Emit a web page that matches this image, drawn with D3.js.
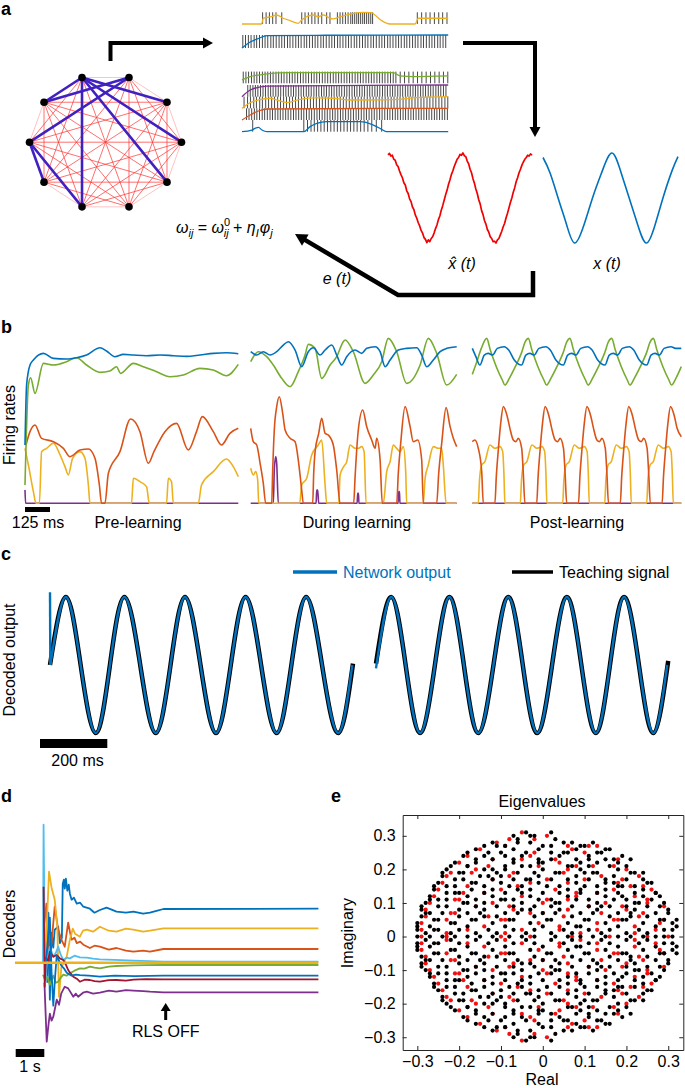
<!DOCTYPE html>
<html>
<head>
<meta charset="utf-8">
<script src="https://cdn.jsdelivr.net/npm/d3@7/dist/d3.min.js"></script>
<style>
body { margin: 0; background: #fff; }
svg { font-family: "Liberation Sans", Arial, Helvetica, sans-serif; }
</style>
</head>
<body>
<svg id="fig" width="685" height="1088"></svg>
<script>
// ---- colours (matlab default cycle) ----
const C = {blue: '#0072bd', orange: '#d95319', yellow: '#edb120', purple: '#7e2f8e',
  green: '#77ac30', cyan: '#4dbeee', red: '#a2142f'}

// ---- panel a : network ----
const nNodes = 10
const strongEdges = [[0,9],[0,2],[0,3],[0,4],[0,6],[1,9],[1,8],[8,7],[8,6]]

// ---- panel a : spike raster (time ms, rate 0..1) ----
const rateYellowTop = [[0,0],[95,0],[103,0.49],[144,0.63],[168,0.77],[200,0.49],[233,0.29],[273,0.06],[290,0.34],[314,0.63],[346,0.77],[370,0.63],[395,0.77],[419,0.57],[443,0.43],[476,0.63],[508,0.77],[540,0.91],[589,1],[629,0.97],[645,0.77],[678,0.29],[718,0],[840,0],[856,0.49],[929,0.49],[1001,0.49]]
const spkYellowTop = [100,117,133,149,165,193,290,306,322,339,354,370,387,411,427,463,476,489,502,515,528,537,547,557,566,576,586,595,605,615,625,634,851,872,893,913,934,955,974,995]
const rateBlueTop = [[0,0],[40,0.46],[80,0.73],[121,0.95],[400,0.98],[1001,1]]
const spkBlueTop = [4,17,31,44,59,71,85,99,112,125,140,152,166,180,193,206,221,233,247,261,274,287,302,314,328,342,355,368,383,395,409,423,436,449,464,476,490,504,517,530,545,557,571,585,598,611,626,638,652,666,679,692,707,719,733,747,760,773,788,800,814,828,841,854,869,881,895,909,922,935,950,962,976,989]
const rateGreen = [[0,0.29],[40,0.57],[121,0.8],[218,0.91],[735,0.91],[767,0.63],[832,0.57],[1001,0.63]]
const spkGreen = [6,19,32,46,59,72,85,99,112,125,138,151,165,178,191,204,218,231,244,257,270,284,297,310,323,337,350,363,376,390,403,416,429,443,456,469,482,496,509,522,535,549,562,575,588,602,615,628,641,655,668,681,694,708,721,734,747,768,789,810,831,852,873,894,915,936,957,978,999]
const ratePurple = [[0,0],[40,0.57],[121,0.91],[1001,1]]
const spkPurple = [28,40,53,65,77,90,102,114,127,139,151,164,176,188,201,213,225,238,250,262,275,287,299,312,324,336,349,361,373,386,398,410,423,435,447,460,472,484,497,509,521,534,546,558,571,583,595,608,620,632,645,657,669,682,694,706,719,731,743,756,768,780,793,805,817,830,842,854,867,879,891,904,916,928,941,953,965,978,990]
const rateYellowLow = [[0,0],[40,0.49],[80,0.71],[137,0.86],[168,0.71],[218,0.49],[282,0.77],[363,0.89],[443,0.86],[524,0.71],[605,0.71],[767,0.77],[848,0.91],[1001,1]]
const spkYellowLow = [10,27,41,57,70,86,99,115,129,144,158,173,187,202,216,231,245,260,274,289,303,318,332,347,361,376,390,405,419,434,448,463,477,492,506,521,535,550,564,579,593,608,622,637,651,666,680,695,709,724,738,753,767,782,796,811,825,840,854,869,883,898,912,927,941,956,970,985,999]
const rateOrange = [[0,0],[40,0.43],[80,0.77],[121,0.94],[1001,1]]
const spkOrange = [22,34,47,60,72,85,98,110,123,136,148,161,174,186,199,212,224,237,250,262,275,288,300,313,326,338,351,364,376,389,402,414,427,440,452,465,478,490,503,516,528,541,554,566,579,592,604,617,630,642,655,668,680,693,706,718,731,744,756,769,782,794,807,820,832,845,858,870,883,896,908,921,934,946,959,972,984,997]
const rateBlueLow = [[0,0],[48,0.14],[64,0.29],[80,0.37],[97,0.14],[121,0],[299,0],[331,0.43],[363,0.71],[411,0.86],[573,0.86],[638,0.57],[678,0.2],[702,0],[1001,0]]
const spkBlueLow = [52,300,318,335,351,367,383,399,415,431,447,463,479,495,511,527,543,559,576,593,611,630,652,678]

// ---- panel a : decoded vs target (phase units, 100 = one period) ----
const xHat = [[0,0.96],[2,0.99],[4,0.93],[6,0.95],[8,0.86],[10,0.84],[12,0.74],[14,0.7],[16,0.6],[18,0.52],[20,0.45],[22,0.34],[24,0.29],[26,0.16],[28,0.1],[30,-0.02],[32,-0.08],[34,-0.2],[36,-0.26],[38,-0.38],[40,-0.45],[42,-0.55],[44,-0.62],[46,-0.72],[48,-0.78],[50,-0.88],[52,-0.92],[54,-0.99],[56,-0.93],[58,-0.97],[60,-0.9],[62,-0.86],[64,-0.78],[66,-0.68],[68,-0.6],[70,-0.48],[72,-0.4],[74,-0.27],[76,-0.17],[78,-0.05],[80,0.07],[82,0.17],[84,0.3],[86,0.4],[88,0.52],[90,0.6],[92,0.7],[94,0.78],[96,0.86],[98,0.9],[100,0.97],[102,0.95],[104,1.0],[106,0.94],[108,0.92],[110,0.82],[112,0.76],[114,0.64],[116,0.56],[118,0.43],[120,0.33],[122,0.2],[124,0.1],[126,-0.04],[128,-0.13],[130,-0.28],[132,-0.37],[134,-0.5],[136,-0.58],[138,-0.7],[140,-0.76],[142,-0.86],[144,-0.9],[146,-0.97],[148,-0.96],[150,-1.0],[152,-0.93],[154,-0.9],[156,-0.82],[158,-0.74],[160,-0.64],[162,-0.56],[164,-0.44],[166,-0.34],[168,-0.22],[170,-0.1],[172,0.0],[174,0.13],[176,0.23],[178,0.36],[180,0.45],[182,0.56],[184,0.64],[186,0.73],[188,0.8],[190,0.86],[192,0.9],[194,0.95],[196,0.93],[198,0.98],[200,0.95]]
const xTarget = [[0,0.9],[10,0.55],[22,-0.05],[33,-0.6],[44,-1],[57,-0.6],[70,0.05],[83,0.62],[96,1],[108,0.6],[120,0],[132,-0.6],[144,-1],[156,-0.6],[168,0.05],[180,0.62],[188,0.92]]

// ---- panel b : firing rates (time ms, rate Hz) ----
const preBlue = [[0,17.5],[8,35.5],[25,41.5],[42,43],[92,45],[142,43.5],[208,43.3],[258,43.7],[308,44.5],[375,46.7],[408,45.7],[450,44],[492,44.7],[542,44.5],[608,44.3],[675,44.5],[742,44.3],[808,44.1],[875,44.5],[942,45],[1008,45.2],[1067,44.9]]
const preGreen = [[0,5.5],[17,35.5],[28,37.7],[50,33],[92,42],[142,41.5],[208,42.5],[258,43.7],[308,41.5],[375,39.3],[425,39.7],[458,41],[478,39],[542,42],[592,41],[658,39.5],[725,38],[792,38.5],[875,40.5],[942,40],[1008,38.3],[1067,41.7]]
const preOrange = [[5,17.5],[25,21.5],[50,23.5],[83,19.5],[142,18.5],[192,16.5],[225,14],[275,16],[317,16.3],[350,13.5],[372,5.5],[383,0],[400,0],[417,9],[475,15.5],[528,25.3],[575,21.5],[617,12],[645,15.5],[700,21.5],[758,24],[817,16],[858,21.5],[887,26],[942,21.5],[983,17.5],[1025,21],[1067,22.5]]
const preYellow = [[0,16.5],[17,11.5],[42,3.5],[55,0],[72,0],[83,15.5],[108,16.5],[142,18],[172,15],[200,11],[217,8.5],[238,13.5],[275,15.5],[300,13.5],[317,5.5],[325,0],[533,0],[542,7.5],[575,6.5],[608,5],[622,0],[708,0],[717,7.5],[733,6.5],[742,0],[867,0],[883,5.5],[942,9.5],[1008,13.3],[1042,11],[1067,8]]
const prePurple = [[0,4],[3,0],[1067,0]]

const durBlue = [[0,45.5],[30,44.5],[63,45.5],[97,44.5],[130,45.5],[163,47.5],[188,48.5],[222,46],[255,41],[288,45.5],[313,46.7],[347,44.5],[372,46],[405,47.5],[430,44.5],[455,41.5],[480,44],[522,46],[555,45],[580,46.5],[622,47],[647,45.5],[672,41],[697,43],[738,46],[780,46.5],[830,46.7],[855,44.5],[880,41],[913,43],[947,45.5],[980,46.5],[1030,47]]
const durGreen = [[0,42.5],[38,45.5],[80,44],[113,41.5],[155,37.5],[197,35],[238,39.5],[272,44.5],[288,47.7],[322,46.5],[355,37.5],[397,41.5],[430,44],[463,48.5],[472,49],[513,45.5],[572,36],[613,38.5],[655,42.5],[688,49.5],[730,45.5],[780,36],[847,41.5],[888,49.5],[930,45],[980,35.5],[1030,38.7]]
const durOrange = [[0,22.5],[13,18.5],[30,17.5],[47,12],[63,6],[75,0],[105,0],[110,10],[118,22],[130,29],[143,32],[160,27],[172,22],[197,19.5],[222,18.5],[240,12],[255,4],[263,0],[310,0],[315,9],[322,15.5],[340,21],[355,25.5],[372,21],[388,20.5],[413,17.5],[430,10],[447,0],[515,0],[522,8],[538,22],[560,28],[580,23],[605,19],[622,16.5],[630,19.5],[647,13],[658,0],[730,0],[738,9],[750,18],[772,29],[797,23],[813,18.5],[835,19],[855,13],[863,0],[930,0],[940,9],[955,18],[977,28.7],[997,23],[1013,19.5],[1030,17]]
const durYellow = [[0,10.5],[13,8.5],[25,9.5],[35,7],[40,0],[245,0],[255,5.5],[280,7.5],[305,14.5],[338,17.5],[355,19],[372,5.5],[380,0],[440,0],[447,8.5],[465,11],[480,12.5],[497,17.5],[522,16.5],[538,16.5],[555,17],[567,15.5],[577,0],[663,0],[680,9.5],[697,12.5],[713,17.5],[730,16.5],[747,15.5],[763,17],[775,9.5],[780,0],[863,0],[872,7.5],[888,11.5],[913,17],[938,16.5],[955,16.5],[963,11.5],[977,0],[1030,0]]
const durPurple = [[0,0],[113,0],[118,10],[125,14],[130,12],[138,0],[327,0],[330,4],[335,4],[340,0],[532,0],[535,3],[539,3],[541,0],[737,0],[740,3.5],[744,3.5],[746,0],[1030,0]]

const postBlue = [[0,46.5],[18,44],[38,41.5],[60,44.5],[80,45],[102,44.5],[125,46.5],[160,47],[182,46],[210,43],[246,41.5],[268,44.5],[288,45],[310,44.5],[333,46.5],[368,47],[390,46],[418,43],[455,41.5],[477,44.5],[497,45],[519,44.5],[542,46.5],[577,47],[599,46],[627,43],[663,41.5],[685,44.5],[705,45],[727,44.5],[750,46.5],[785,47],[807,46],[835,43],[872,41.5],[894,44.5],[914,45],[936,44.5],[959,46.5],[994,47],[1016,46.5],[1045,46.5]]
const postGreen = [[0,38.7],[20,42],[45,46.5],[72,49.5],[90,46],[120,41],[150,37],[163,35.5],[185,37.5],[215,41],[245,45],[265,48.5],[280,49.5],[298,46],[328,41],[358,37],[371,35.5],[393,37.5],[423,41],[453,45],[473,48.5],[488,49.5],[506,46],[536,41],[566,37],[579,35.5],[601,37.5],[631,41],[661,45],[681,48.5],[697,49.5],[715,46],[745,41],[775,37],[788,35.5],[810,37.5],[840,41],[870,45],[890,48.5],[905,49.5],[923,46],[953,41],[983,37],[996,35.5],[1018,37.5],[1045,41]]
const postOrange = [[0,18.5],[13,19],[30,16.5],[47,9.5],[55,0],[113,0],[120,8],[130,16],[142,24],[155,29],[175,26],[188,22.5],[205,19],[218,18.5],[230,19.5],[247,16.5],[255,9],[263,0],[322,0],[329,8],[339,16],[351,24],[364,29],[384,26],[397,22.5],[414,19],[427,18.5],[439,19.5],[456,16.5],[464,9],[472,0],[531,0],[538,8],[548,16],[560,24],[573,29],[593,26],[606,22.5],[623,19],[636,18.5],[648,19.5],[665,16.5],[673,9],[681,0],[740,0],[747,8],[757,16],[769,24],[782,29],[802,26],[815,22.5],[832,19],[845,18.5],[857,19.5],[874,16.5],[882,9],[890,0],[949,0],[956,8],[966,16],[978,24],[991,29],[1011,26],[1024,22.5],[1045,20]]
const postYellow = [[0,0],[30,0],[36,7],[47,11.5],[63,12.5],[88,17.5],[113,16.5],[138,17],[152,15.5],[158,9],[163,0],[240,0],[246,7],[257,11.5],[273,12.5],[298,17.5],[323,16.5],[348,17],[362,15.5],[368,9],[373,0],[452,0],[458,7],[469,11.5],[485,12.5],[510,17.5],[535,16.5],[560,17],[574,15.5],[580,9],[585,0],[662,0],[668,7],[679,11.5],[695,12.5],[720,17.5],[745,16.5],[770,17],[784,15.5],[790,9],[795,0],[872,0],[878,7],[889,11.5],[905,12.5],[930,17.5],[955,16.5],[980,17],[994,15.5],[1000,9],[1005,0],[1045,0]]
const postPurple = [[0,0],[1045,0]]

// ---- panel c : decoded output (time ms, normalised) ----
const teach1 = [[0,0],[47,1],[91,0],[136,-1],[178,0],[221,1],[268,0],[314,-1],[358,0],[401,1],[447,0],[493,-1],[537,0],[581,1],[627,0],[673,-1],[717,0],[761,1],[808,0],[856,-1],[900,0.02]]
const netOnset = [[0,1.07],[1,0]]
const net1 = [[1,0],[47,1],[91,0],[136,-1],[178,0],[221,1],[268,0],[314,-1],[358,0],[401,1],[447,0],[493,-1],[537,0],[581,1],[627,0],[673,-1],[717,0],[761,1],[808,0],[856,-1],[898,0]]
const teach2 = [[0,0.02],[45,1],[88,0],[131,-1],[175,0],[218,1],[261,0],[304,-1],[349,0],[393,1],[436,0],[479,-1],[523,0],[567,1],[610,0],[653,-1],[695,0],[737,1],[781,0],[824,-1],[868,0.06]]
const net2 = [[0,-0.05],[45,1],[88,0],[131,-1],[175,0],[218,1],[261,0],[304,-1],[349,0],[393,1],[436,0],[479,-1],[523,0],[567,1],[610,0],[653,-1],[695,0],[737,1],[781,0],[824,-1],[865,0]]

// ---- panel d : decoders (time s, value) ----
const decBlue = [[0.15,-2],[0.19,5],[0.24,-3.7],[0.3,3],[0.36,1.5],[0.41,3.3],[0.53,3.6],[0.59,1.96],[0.66,2.5],[0.69,7.9],[0.73,8.3],[0.76,7.4],[0.8,8.4],[0.85,7.2],[0.9,7.8],[0.94,6.9],[1.0,6.3],[1.08,6.5],[1.18,5.9],[1.3,6.0],[1.41,5.6],[1.64,5.4],[1.8,5.0],[1.99,5.27],[2.22,5.5],[2.4,5.3],[2.57,5.1],[2.9,5.0],[3.16,5.1],[3.5,4.9],[3.74,5.0],[4.0,5.2],[4.21,5.37],[9.63,5.4]]
const decOrange = [[0.05,4],[0.12,5.9],[0.18,0.6],[0.3,2],[0.41,5.6],[0.53,3.3],[0.66,2.2],[0.76,1.6],[0.88,4],[0.94,3.1],[1.0,2.3],[1.1,2.5],[1.18,1.96],[1.3,2.1],[1.41,1.8],[1.64,1.47],[1.8,1.7],[1.99,1.6],[2.3,1.3],[2.57,1.47],[2.9,1.2],[3.16,1.1],[3.5,1.2],[3.74,1.1],[4.21,1.37],[9.63,1.37]]
const decYellow = [[0.08,0],[0.21,9.1],[0.3,7.5],[0.41,6.3],[0.5,3.6],[0.56,-3.4],[0.64,-0.5],[0.83,0.6],[0.94,2.3],[1.04,3.4],[1.12,2.9],[1.29,2.6],[1.4,3.2],[1.53,3.3],[1.75,3.1],[1.99,3.6],[2.3,3.2],[2.57,3.1],[2.9,3.4],[3.16,3.3],[3.5,3.1],[3.74,3.2],[4.21,3.44],[9.63,3.44]]
const decPurple = [[0.05,-2],[0.13,-7.9],[0.2,-6],[0.24,-5.1],[0.3,-5.8],[0.36,-5.4],[0.48,-3.7],[0.56,-4.2],[0.64,-3.06],[0.76,-2.4],[0.88,-2.57],[1.06,-3.4],[1.15,-3.1],[1.23,-3.4],[1.4,-3.0],[1.53,-2.9],[1.75,-3.1],[1.99,-3.0],[2.3,-2.8],[2.57,-2.9],[2.9,-2.75],[3.16,-2.8],[3.5,-2.85],[3.74,-2.9],[4.21,-2.96],[9.63,-2.96]]
const decGreen = [[0,-1.2],[0.07,-1.73],[0.15,-1.4],[0.24,-2.2],[0.36,-1.3],[0.45,-2.0],[0.53,-1.9],[0.62,-1.5],[0.71,-1.2],[0.82,-1.3],[0.94,-1.07],[1.1,-0.8],[1.29,-0.57],[1.45,-0.6],[1.64,-0.4],[1.8,-0.5],[1.99,-0.57],[2.3,-0.4],[2.57,-0.33],[3.16,-0.27],[3.6,-0.25],[4.21,-0.23],[9.63,-0.23]]
const decCyan = [[0,0],[0.02,13.8],[0.05,5],[0.08,-1.7],[0.15,0.5],[0.24,1.6],[0.36,0.6],[0.45,1.0],[0.53,1.6],[0.62,0.8],[0.71,0.27],[0.82,0.5],[0.94,0.43],[1.1,0.7],[1.29,0.53],[1.53,0.5],[1.75,0.4],[1.99,0.33],[2.5,0.28],[3.16,0.2],[3.7,0.15],[4.21,0.1],[9.63,0.1]]
const decRed = [[0.02,7.6],[0.06,-2.4],[0.1,0.5],[0.18,0.2],[0.24,1.1],[0.36,0.6],[0.48,0.77],[0.6,0.4],[0.71,0.27],[0.8,-0.2],[0.88,-0.73],[0.97,-1.1],[1.06,-1.4],[1.18,-1.6],[1.29,-1.9],[1.45,-1.7],[1.64,-1.73],[1.8,-1.85],[1.99,-1.9],[2.3,-1.75],[2.57,-1.73],[2.9,-1.8],[3.16,-1.7],[3.6,-1.65],[4.21,-1.66],[9.63,-1.66]]
const decBlue2 = [[0.1,0],[0.24,4.5],[0.3,-1],[0.36,-4.3],[0.42,-1.5],[0.48,0.7],[0.56,0.2],[0.64,-0.3],[0.74,-0.6],[0.83,-1.0],[1.0,-1.3],[1.15,-1.2],[1.29,-1.25],[1.6,-1.3],[1.99,-1.4],[2.5,-1.3],[3.2,-1.35],[4.21,-1.3],[9.63,-1.3]]
const decFlat = [[-0.98,0],[9.63,0]]
const rlsOff = 4.29

// ---- panel e : eigenvalues, hundredths "re,im" (im >= 0; conjugates drawn too) ----
const eigBlack = "-7,30 -4,31 -2,30 2,31 -12,28 -9,27 -6,29 -3,28 0,27 3,29 5,28 9,27 12,28 -16,26 -13,25 -11,27 -7,26 -4,25 -1,26 2,27 5,25 8,26 10,27 14,25 16,26 -19,24 -16,23 -14,24 -10,25 -7,23 -5,24 -1,23 2,25 4,24 8,23 11,24 13,25 17,23 19,24 -21,22 -18,21 -16,22 -12,23 -9,21 -7,22 -3,21 0,22 2,23 6,21 9,22 11,21 15,23 18,22 20,21 -23,20 -20,19 -18,21 -14,20 -11,19 -9,20 -5,21 -2,19 0,20 4,19 7,21 9,20 13,19 16,21 18,20 22,19 -24,18 -21,17 -19,19 -15,18 -12,17 -10,18 -6,19 -3,17 -1,18 3,19 6,17 8,18 12,19 15,17 17,18 21,19 24,17 -25,16 -23,15 -19,17 -16,16 -14,15 -10,16 -7,17 -5,15 -1,16 2,17 4,15 8,16 11,17 13,15 17,16 20,17 22,15 25,16 -26,14 -23,13 -21,15 -17,14 -14,13 -12,14 -8,15 -5,13 -3,14 1,15 4,13 6,14 10,15 13,13 15,14 19,15 22,13 24,14 27,13 -27,12 -25,11 -21,13 -18,12 -16,11 -12,12 -9,13 -7,11 -3,12 0,13 2,11 6,12 9,13 11,11 15,12 18,13 20,11 24,12 27,13 -28,10 -25,9 -23,11 -19,10 -16,9 -14,10 -10,11 -7,9 -5,10 -1,11 2,9 4,10 8,11 11,9 13,10 17,11 20,9 22,10 26,11 28,9 -29,8 -27,7 -23,9 -20,8 -18,7 -14,8 -11,9 -9,7 -5,8 -2,9 0,7 4,8 7,9 9,7 13,8 16,9 18,7 22,8 25,9 27,7 30,8 -29,6 -26,5 -24,7 -20,6 -17,5 -15,7 -11,6 -8,5 -6,7 -2,6 1,5 3,7 7,6 10,5 12,7 16,6 19,5 21,7 25,6 28,5 30,7 -30,4 -27,3 -25,5 -21,4 -18,3 -16,5 -12,4 -9,3 -7,5 -3,4 0,3 2,5 6,4 9,3 11,5 15,4 18,3 20,5 24,4 27,3 29,5 -30,2 -28,1 -25,2 -22,1 -20,2 -16,1 -13,2 -11,1 -7,2 -4,1 -2,2 2,1 5,2 7,1 11,2 14,1 16,2 20,1 23,2 25,1 29,2 31,2 -30,0 -27,0 -24,0 -21,0 -18,0 -15,0 -12,0 -8,0 -5,0 -2,0 3,0 6,0 9,0 12,0 15,0 18,0 21,0 24,0 27,0 29,0 31,0 " +
  "-3,30 -14,27 7,28 -18,25 15,26 -22,21 21,23 -9,24 6,25 -24,19 24,19 -1,22 13,22 -26,15 26,16 -13,18 10,19 -27,11 28,12 -17,16 15,16 -29,9 29,10 -6,14 9,14 -28,7 -18,10 19,12 -30,3 -14,6 14,9 -26,2 -3,8 21,6 31,4 -9,11 3,10 32,5 32,3 -20,13 -4,17 18,15 -12,20 11,23 -6,28 -22,4 8,3 23,10"
const eigRed = "-5,31 1,30 -8,29 -11,28 -2,29 6,27 11,27 -15,26 -9,27 -2,25 7,26 13,27 -18,24 -12,23 -3,24 3,23 10,25 18,23 -20,22 -13,21 -5,23 4,22 8,21 17,21 -22,19 -16,20 -7,19 -1,21 6,20 12,21 20,20 -23,18 -17,19 -8,18 1,17 5,19 14,18 19,17 23,18 -24,16 -18,15 -12,17 -3,16 6,16 10,17 18,16 24,15 -25,14 -19,13 -10,14 -6,15 3,14 8,13 17,14 21,15 26,14 -26,12 -20,11 -14,13 -5,12 1,11 8,12 13,13 22,12 25,11 -27,10 -21,11 -12,10 -8,9 0,10 6,11 15,10 19,9 25,10 -28,8 -21,7 -16,9 -7,8 -3,7 6,8 11,9 20,8 24,7 29,9 -28,6 -22,7 -13,6 -9,5 0,7 5,6 14,7 18,5 23,6 29,5 -29,4 -23,5 -14,3 -10,5 -1,4 4,3 13,4 17,5 22,3 28,4 -29,2 -23,1 -18,2 -9,1 -5,2 4,2 9,1 13,2 22,1 27,2 -29,0 -23,0 -10,0 -3,0 7,0 16,0 25,0 30,0"
const eTicks = [-0.3, -0.2, -0.1, 0, 0.1, 0.2, 0.3]


const svg = d3.select('#fig')

function plot(g, data, xs, ys, color, w, curve) {
  g.append('path').datum(data)
    .attr('d', d3.line().x(d => xs(d[0])).y(d => ys(d[1])).curve(curve || d3.curveLinear))
    .attr('fill', 'none').attr('stroke', color).attr('stroke-width', w)
    .attr('stroke-linejoin', 'round').attr('stroke-linecap', 'butt')
}

function arrow(g, pts, hl, hw, sw) {
  let n = pts.length, [x1, y1] = pts[n - 2], [x2, y2] = pts[n - 1]
  let L = Math.hypot(x2 - x1, y2 - y1), ux = (x2 - x1) / L, uy = (y2 - y1) / L
  let bx = x2 - ux * hl, by = y2 - uy * hl
  g.append('path').attr('d', d3.line()(pts.slice(0, n - 1).concat([[bx + ux, by + uy]])))
    .attr('fill', 'none').attr('stroke', '#000').attr('stroke-width', sw)
  g.append('path')
    .attr('d', `M${x2},${y2}L${bx - uy * hw / 2},${by + ux * hw / 2}L${bx + uy * hw / 2},${by - ux * hw / 2}Z`)
    .attr('fill', '#000')
}

function label(txt, x, y, opt) {
  opt = opt || {}
  let t = svg.append('text').attr('x', x).attr('y', y).text(txt)
    .attr('font-size', opt.size || 16).attr('text-anchor', opt.anchor || 'middle')
    .attr('fill', opt.fill || '#000')
  if (opt.bold) t.attr('font-weight', 'bold')
  if (opt.italic) t.attr('font-style', 'italic')
  if (opt.rot) t.attr('transform', `rotate(-90,${x},${y})`)
  return t
}

// panel letters
label('a', 1, 15, {size: 18, bold: true, anchor: 'start'})
label('b', 1, 333, {size: 18, bold: true, anchor: 'start'})
label('c', 1, 560, {size: 18, bold: true, anchor: 'start'})
label('d', 1, 802, {size: 18, bold: true, anchor: 'start'})
label('e', 331, 802, {size: 18, bold: true, anchor: 'start'})

// =========== a ===========
const ga = svg.append('g')
const cx = 105.5, cy = 142.2, rx = 76, ry = 68
const nodes = d3.range(nNodes).map(k => {
  let a = (-18 + 36 * k) * Math.PI / 180
  return [cx + rx * Math.sin(a), cy - ry * Math.cos(a)]
})
const pairs = []
for (let i = 0; i < nNodes; i++) for (let j = i + 1; j < nNodes; j++) pairs.push([i, j])
ga.append('g').selectAll('line').data(pairs).join('line')
  .attr('x1', d => nodes[d[0]][0]).attr('y1', d => nodes[d[0]][1])
  .attr('x2', d => nodes[d[1]][0]).attr('y2', d => nodes[d[1]][1])
  .attr('stroke', d => (d[1] - d[0] == 1 || d[1] - d[0] == 9) ? '#ffa8a8' : '#ff3030')
  .attr('stroke-width', 0.7)
ga.append('g').selectAll('line').data(strongEdges).join('line')
  .attr('x1', d => nodes[d[0]][0]).attr('y1', d => nodes[d[0]][1])
  .attr('x2', d => nodes[d[1]][0]).attr('y2', d => nodes[d[1]][1])
  .attr('stroke', '#4020c0').attr('stroke-width', 2.6)
ga.append('g').selectAll('circle').data(nodes).join('circle')
  .attr('cx', d => d[0]).attr('cy', d => d[1]).attr('r', 3.8).attr('fill', '#000')

// raster
const xr = d3.scaleLinear([0, 1000], [242, 448])
const rows = [
  {rate: rateYellowTop, spikes: spkYellowTop, color: C.yellow, base: 24, h: 11.7},
  {rate: rateBlueTop, spikes: spkBlueTop, color: C.blue, base: 48, h: 13},
  {rate: rateGreen, spikes: spkGreen, color: C.green, base: 83.3, h: 11.7},
  {rate: ratePurple, spikes: spkPurple, color: C.purple, base: 96.7, h: 11.7},
  {rate: rateYellowLow, spikes: spkYellowLow, color: C.yellow, base: 108.3, h: 11.7},
  {rate: rateOrange, spikes: spkOrange, color: C.orange, base: 120, h: 11.7},
  {rate: rateBlueLow, spikes: spkBlueLow, color: C.blue, base: 131.7, h: 11.7}
]
rows.forEach(r => {
  ga.append('g').selectAll('line').data(r.spikes).join('line')
    .attr('x1', d => xr(d)).attr('x2', d => xr(d))
    .attr('y1', r.base).attr('y2', r.base - r.h)
    .attr('stroke', '#333').attr('stroke-width', 0.9)
})
rows.forEach(r => {
  let ys = d3.scaleLinear([0, 1], [r.base, r.base - r.h])
  plot(ga, r.rate, xr, ys, r.color, 1.3, d3.curveMonotoneX)
})

// sinusoids
const ySin = d3.scaleLinear([-1, 1], [243, 153])
plot(ga, xHat, d3.scaleLinear([0, 200], [388, 532]), ySin, '#f00000', 1.7)
plot(ga, xTarget, d3.scaleLinear([0, 188], [543, 678]), ySin, C.blue, 1.6, d3.curveNatural)
label('x\u0302 (t)', 462, 269, {italic: true})
label('x (t)', 607, 269, {italic: true})
label('e (t)', 337, 284, {italic: true})

// formula
const ft = ga.append('text').attr('x', 176).attr('y', 233).attr('font-size', 16)
  .attr('font-style', 'italic')
;[['\u03c9', 0, 0, 16], ['ij', 0, 4, 11], [' = ', 0, -4, 16, 'normal'], ['\u03c9', 0, 0, 16],
  ['0', 0, -7, 11, 'normal'], ['ij', -6.5, 11, 11], [' + ', 0, -4, 16, 'normal'], ['\u03b7', 0, 0, 16],
  ['I', 0, 4, 11], ['\u03c6', 1, -4, 16], ['j', 0, 4, 11]].forEach(p => {
  ft.append('tspan').text(p[0]).attr('dx', p[1]).attr('dy', p[2]).attr('font-size', p[3])
    .attr('font-style', p[4] || 'italic')
})

// arrows
arrow(ga, [[110.5, 61], [110.5, 43], [213, 43]], 10, 11, 4)
arrow(ga, [[463, 43], [535, 43], [535, 137]], 10, 11, 4)
arrow(ga, [[533, 271], [533, 295], [398, 295], [295, 234]], 12, 13, 4.5)

// =========== b ===========
const gb = svg.append('g')
const yb = d3.scaleLinear([0, 50], [503.3, 336.7])
const segs = [
  {x0: 25, x1: 238.3, t1: 1067, lines: [prePurple, preYellow, preOrange, preGreen, preBlue]},
  {x0: 250.7, x1: 456.7, t1: 1030, lines: [durPurple, durYellow, durOrange, durGreen, durBlue]},
  {x0: 472.3, x1: 681.3, t1: 1045, lines: [postPurple, postYellow, postOrange, postGreen, postBlue]}
]
const bCols = [C.purple, C.yellow, C.orange, C.green, C.blue]
segs.forEach(s => {
  let xs = d3.scaleLinear([0, s.t1], [s.x0, s.x1])
  s.lines.forEach((l, i) => plot(gb, l, xs, yb, bCols[i], 1.6, d3.curveMonotoneX))
})
label('Firing rates', 15, 425, {rot: true})
gb.append('rect').attr('x', 25).attr('y', 507).attr('width', 25).attr('height', 5).attr('fill', '#000')
label('125 ms', 38, 528)
label('Pre-learning', 138, 528)
label('During learning', 357, 528)
label('Post-learning', 577, 528)

// =========== c ===========
const gc = svg.append('g')
const yc = d3.scaleLinear([-1, 1], [733, 597])
const xc1 = d3.scaleLinear([0, 900], [50, 353]), xc2 = d3.scaleLinear([0, 868], [376, 668.2])
plot(gc, teach1, xc1, yc, '#000', 4.5, d3.curveNatural)
plot(gc, teach2, xc2, yc, '#000', 4.5, d3.curveNatural)
plot(gc, netOnset, xc1, yc, C.blue, 2.4)
plot(gc, net1, xc1, yc, C.blue, 2.4, d3.curveNatural)
plot(gc, net2, xc2, yc, C.blue, 2.4, d3.curveNatural)
gc.append('line').attr('x1', 293).attr('x2', 337).attr('y1', 572).attr('y2', 572).attr('stroke', C.blue).attr('stroke-width', 3.5)
label('Network output', 343, 578, {anchor: 'start', fill: C.blue})
gc.append('line').attr('x1', 512).attr('x2', 553).attr('y1', 572).attr('y2', 572).attr('stroke', '#000').attr('stroke-width', 3.5)
label('Teaching signal', 559, 578, {anchor: 'start'})
label('Decoded output', 15, 660, {rot: true})
gc.append('rect').attr('x', 40).attr('y', 739).attr('width', 67.3).attr('height', 9).attr('fill', '#000')
label('200 ms', 77.5, 766)

// =========== d ===========
const gd = svg.append('g')
const xd = d3.scaleLinear([0, 9.63], [43, 318.4])
const yd = d3.scaleLinear([-8, 14], [1042.7, 822.7])
;[[decBlue, C.blue], [decOrange, C.orange], [decYellow, C.yellow], [decPurple, C.purple],
  [decGreen, C.green], [decCyan, C.cyan], [decRed, C.red], [decBlue2, C.blue]]
  .forEach(p => plot(gd, p[0], xd, yd, p[1], 1.8))
plot(gd, decFlat, xd, yd, C.yellow, 2.4)
label('Decoders', 15, 924, {rot: true})
arrow(gd, [[xd(rlsOff), 1020], [xd(rlsOff), 1003]], 8, 10, 3)
label('RLS OFF', xd(rlsOff), 1037)
gd.append('rect').attr('x', xd(0) - 27.3).attr('y', 1049).attr('width', 28.6).attr('height', 8).attr('fill', '#000')
label('1 s', 30, 1072)

// =========== e ===========
const ge = svg.append('g')
const xe = d3.scaleLinear([-0.335, 0.336], [402.7, 683.3])
const ye = d3.scaleLinear([-0.338, 0.362], [1050, 815])
const fmt = d => d === 0 ? '0' : d3.format('.1f')(d)
const parse = s => s.trim().split(/\s+/).map(p => p.split(',').map(v => +v / 100))
const withConj = pts => pts.flatMap(p => p[1] > 0 ? [p, [p[0], -p[1]]] : [p])
ge.append('g').selectAll('circle').data(withConj(parse(eigRed))).join('circle')
  .attr('cx', d => xe(d[0])).attr('cy', d => ye(d[1])).attr('r', 2.1).attr('fill', '#f01010')
ge.append('g').selectAll('circle').data(withConj(parse(eigBlack))).join('circle')
  .attr('cx', d => xe(d[0])).attr('cy', d => ye(d[1])).attr('r', 2.1).attr('fill', '#000')

function styleAxis(g) {
  g.attr('font-size', 16).attr('font-family', null)
  g.selectAll('path,line').attr('stroke', '#262626')
}
ge.append('g').attr('transform', 'translate(0,1050)')
  .call(d3.axisBottom(xe).tickValues(eTicks).tickFormat(fmt).tickSizeInner(-4).tickSizeOuter(0).tickPadding(6)).call(styleAxis)
ge.append('g').attr('transform', 'translate(0,815)')
  .call(d3.axisTop(xe).tickValues(eTicks).tickFormat('').tickSizeInner(-4).tickSizeOuter(0)).call(styleAxis)
ge.append('g').attr('transform', 'translate(402.7,0)')
  .call(d3.axisLeft(ye).tickValues(eTicks).tickFormat(fmt).tickSizeInner(-4).tickSizeOuter(0).tickPadding(7)).call(styleAxis)
ge.append('g').attr('transform', 'translate(683.3,0)')
  .call(d3.axisRight(ye).tickValues(eTicks).tickFormat('').tickSizeInner(-4).tickSizeOuter(0)).call(styleAxis)
label('Eigenvalues', 542, 807)
label('Real', 542, 1085)
label('Imaginary', 353, 933, {rot: true})
</script>
</body>
</html>
